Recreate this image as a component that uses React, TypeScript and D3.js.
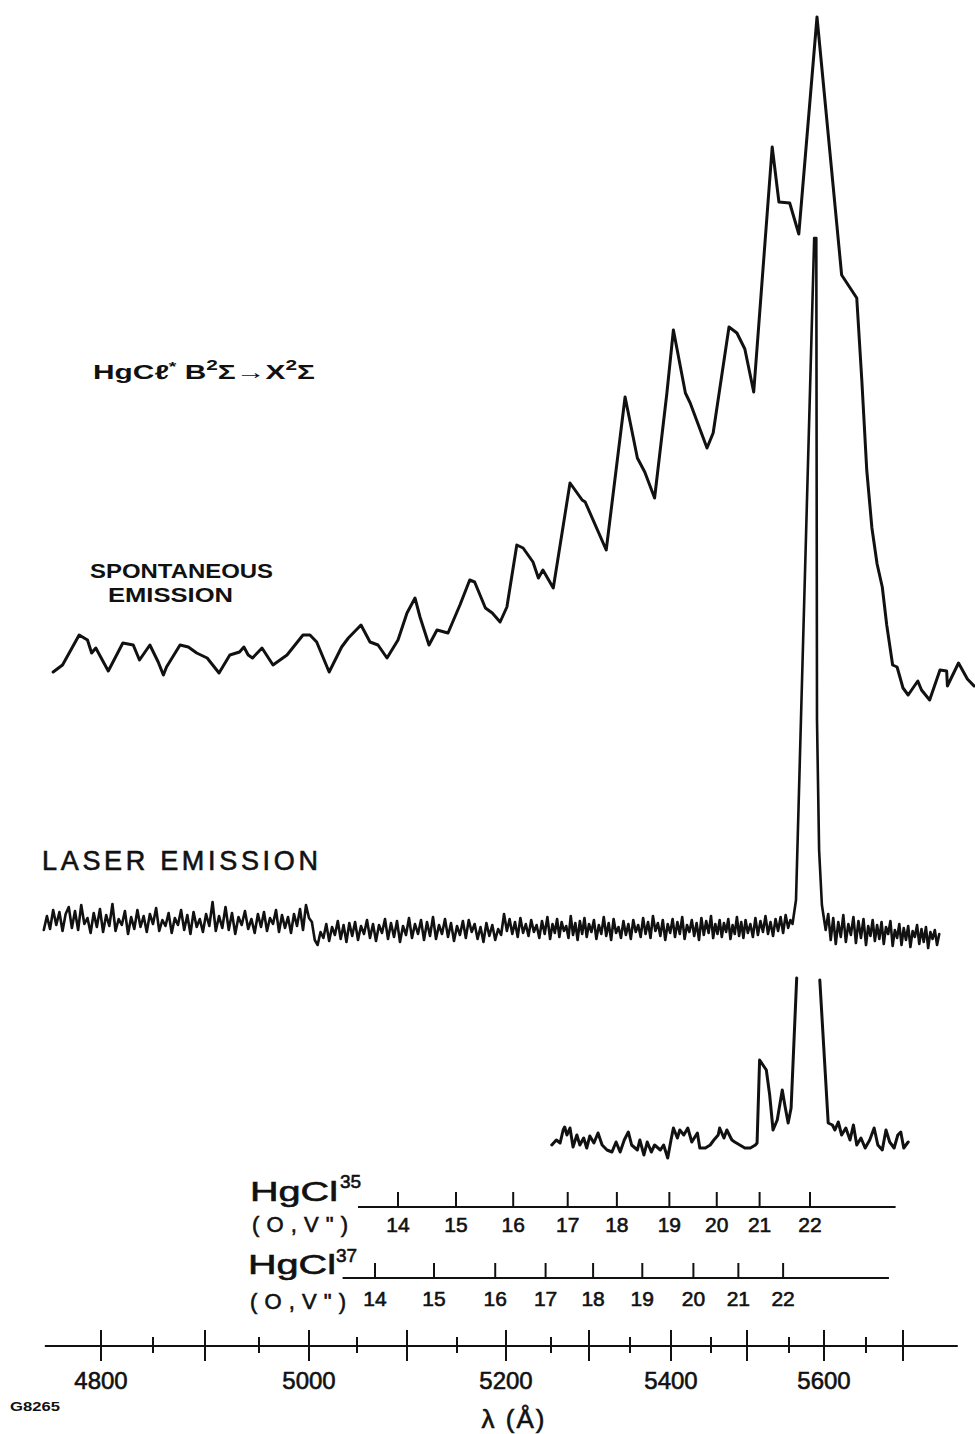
import React from "react";
import * as d3 from "d3";

const W = 975;
const H = 1434;

// wavelength calibration of the lower axis (Å) and the chart position of each mark
const calibLambda = [4800, 4850, 4900, 4950, 5000, 5050, 5100, 5150, 5200, 5250, 5300, 5350, 5400, 5450, 5500, 5550, 5600, 5650, 5700];
const calibPos = [0, 52, 104, 158, 208, 256, 306, 356, 405, 450, 488, 529, 570, 610, 646, 688, 723, 765, 802];
const majorTicks = [4800, 4900, 5000, 5100, 5200, 5300, 5400, 5500, 5600, 5700];
const minorTicks = [4850, 4950, 5050, 5150, 5250, 5350, 5450, 5550, 5650];
const tickLabels = [4800, 5000, 5200, 5400, 5600];
const axisSpan = [4746, 5774];

// (0,v'') band heads
const v35 = [14, 15, 16, 17, 18, 19, 20, 21, 22];
const lambda35 = [5091, 5149, 5208, 5272, 5334, 5398, 5458, 5515, 5580];
const span35 = [5051, 5690];
const v37 = [14, 15, 16, 17, 18, 19, 20, 21, 22];
const lambda37 = [5068, 5127, 5189, 5244, 5305, 5365, 5428, 5488, 5543];
const span37 = [5035, 5681];

// spontaneous emission trace
const spontLambda = [
  4754, 4763, 4779, 4787, 4791, 4795, 4807, 4821, 4831, 4837,
  4847, 4855, 4860, 4863, 4876, 4884, 4892, 4902, 4913, 4923,
  4932, 4936, 4940, 4944, 4953, 4964, 4978, 4994, 5001, 5008,
  5021, 5034, 5041, 5054, 5063, 5071, 5080, 5091, 5100, 5108,
  5113, 5122, 5130, 5141, 5153, 5163, 5168, 5179, 5186, 5194,
  5201, 5212, 5219, 5230, 5236, 5241, 5253, 5275, 5291, 5295,
  5321, 5344, 5359, 5368, 5380, 5395, 5403, 5418, 5424, 5445,
  5453, 5475, 5486, 5497, 5508, 5530, 5538, 5551, 5564, 5590,
  5621, 5639, 5645, 5651, 5658, 5665, 5672, 5678, 5686, 5692,
  5700, 5707, 5720, 5725, 5736, 5750, 5759, 5760, 5775, 5787, 5796,
];
const spontValue = [
  4.8, 5.5, 8.5, 8.0, 6.7, 7.2, 4.9, 7.7, 7.5, 6.0,
  7.5, 5.8, 4.5, 5.3, 7.5, 7.3, 6.7, 6.2, 4.7, 6.5,
  6.8, 7.3, 6.5, 6.2, 7.2, 5.5, 6.5, 8.5, 8.5, 7.8,
  4.8, 7.3, 8.2, 9.5, 7.8, 7.5, 6.2, 8.0, 10.7, 12.2,
  10.3, 7.5, 9.0, 8.7, 11.5, 14.0, 13.8, 11.2, 10.7, 9.8,
  11.3, 17.5, 17.2, 15.8, 14.2, 15.0, 13.2, 23.7, 22.0, 21.8,
  17.0, 32.3, 26.2, 24.8, 22.2, 32.7, 39.0, 32.7, 31.7, 27.2,
  28.7, 39.3, 38.7, 37.1, 32.8, 57.3, 51.8, 51.7, 48.6, 70.3,
  44.5, 42.2, 34.0, 25.0, 19.2, 15.6, 13.3, 9.5, 5.5, 5.3,
  3.2, 2.5, 3.9, 3.0, 2.0, 5.0, 4.9, 3.4, 5.7, 4.1, 3.4,
];

// laser emission trace: noise sampled every 3 Å, then the laser line
const laserStart = 4745;
const laserStep = 3;
const laserLeft = [
  3.0, 4.4, 3.1, 5.0, 3.5, 4.8, 2.9, 4.6, 5.3, 3.2,
  4.9, 3.0, 5.5, 3.6, 4.2, 2.7, 4.7, 3.3, 5.1, 2.8,
  4.5, 3.4, 5.6, 2.9, 4.1, 3.5, 4.9, 2.6, 4.3, 3.1,
  5.0, 3.3, 4.4, 2.8, 4.6, 3.6, 5.2, 2.9, 4.0, 3.4,
  4.7, 2.7, 4.2, 3.5, 5.0, 3.0, 4.5, 2.6, 4.8, 3.3,
  4.1, 2.8, 4.6, 3.4, 5.8, 2.9, 4.4, 3.2, 5.3, 3.0,
  4.7, 2.6, 4.3, 3.5, 4.9, 3.1, 4.1, 2.7, 4.6, 3.3,
  4.8, 2.9, 4.2, 3.6, 5.0, 2.8, 4.5, 3.2, 4.3, 2.7,
  4.6, 3.4, 5.1, 3.0, 5.5, 4.2, 3.8, 2.0, 1.5, 2.8,
  2.2, 3.6, 1.9, 3.3, 2.5, 3.9, 2.1, 3.5, 1.8, 3.7,
  2.4, 3.8, 2.0, 3.4, 2.6, 4.0, 2.2, 3.6, 1.9, 3.5,
  2.7, 4.1, 2.1, 3.7, 2.3, 3.9, 1.8, 3.4, 2.5, 4.2,
  2.2, 3.6, 2.6, 4.0, 2.0, 3.8, 2.4, 4.3, 2.1, 3.5,
  2.6, 4.1, 2.3, 3.7, 1.9, 3.4, 2.5, 3.9, 2.2, 4.0,
  2.8, 3.6, 2.1, 3.3, 1.8, 3.7, 2.4, 3.5, 2.0, 3.1,
  2.5, 4.6, 2.9, 4.1, 2.6, 3.8, 2.3, 4.2, 2.7, 3.6,
  2.4, 4.0, 2.8, 3.5, 2.2, 3.9, 2.6, 4.3, 2.1, 3.6,
  2.7, 4.1, 2.3, 3.8, 2.9, 3.4, 2.2, 4.4, 2.5, 3.7,
  2.0, 3.9, 2.6, 4.2, 2.3, 3.6, 2.8, 4.0, 2.1, 3.5,
  2.6, 4.3, 2.4, 3.7, 2.0, 4.1, 2.7, 3.3, 2.2, 3.9,
  2.5, 3.6, 2.1, 4.0, 2.8, 3.5, 2.3, 4.2, 2.6, 3.8,
  2.2, 4.4, 2.9, 3.7, 2.4, 4.0, 2.0, 3.6, 2.7, 4.1,
  2.3, 3.8, 2.6, 4.3, 2.1, 3.5, 2.8, 4.0, 2.4, 3.7,
  2.0, 4.2, 2.5, 3.9, 2.7, 4.4, 2.2, 3.6, 2.6, 4.0,
  2.3, 3.7, 2.8, 4.1, 2.1, 3.5, 2.6, 4.3, 2.4, 3.8,
  2.2, 4.0, 2.7, 3.6, 2.3, 4.2, 2.5, 3.9, 2.8, 4.4,
  2.6, 3.8, 2.4, 4.1, 2.9, 4.3, 2.7, 4.5, 3.2, 4.0,
  3.6,
];
const laserPeakLambda = [5560, 5586, 5589, 5590, 5593, 5597, 5602];
const laserPeakValue = [6.0, 72.2, 72.2, 24.0, 11.0, 5.5, 3.0];
const laserRightStart = 5605;
const laserRight = [
  4.6, 2.0, 4.2, 1.6, 3.8, 2.3, 4.5, 1.8, 3.6, 2.5,
  4.3, 1.7, 3.9, 2.2, 4.1, 1.5, 3.4, 2.4, 4.0, 1.9,
  3.5, 2.1, 3.8, 1.6, 3.3, 2.6, 3.9, 1.4, 3.0, 2.2,
  3.6, 1.5, 3.2, 2.0, 3.4, 1.3, 2.9, 2.3, 3.5, 1.6,
  3.1, 1.8, 3.3, 1.2, 2.8, 2.1, 3.0, 1.5, 2.6,
];

// expanded laser spectrum (peak runs off scale)
const insetLeftLambda = [
  5251, 5257, 5262, 5266, 5268, 5271, 5275, 5279, 5284, 5288,
  5293, 5297, 5301, 5306, 5311, 5316, 5322, 5328, 5333, 5338,
  5343, 5348, 5352, 5359, 5362, 5367, 5371, 5376, 5380, 5387,
  5391, 5396, 5400, 5403, 5408, 5411, 5416, 5421, 5426, 5433,
  5436, 5443, 5449, 5454, 5460, 5462, 5468, 5472, 5479, 5483,
  5490, 5497, 5504, 5510, 5512, 5515, 5519, 5523, 5527, 5531,
  5536, 5542, 5545, 5549, 5553, 5561,
];
const insetLeftValue = [
  1.5, 2.0, 1.7, 3.0, 3.3, 2.5, 3.2, 1.3, 2.5, 1.5,
  2.2, 1.2, 2.4, 1.7, 2.7, 1.5, 1.0, 0.8, 1.8, 0.8,
  2.0, 2.8, 1.5, 1.0, 2.0, 0.5, 1.8, 0.8, 1.5, 1.0,
  1.5, 0.2, 2.0, 3.2, 2.2, 3.0, 2.5, 3.2, 1.8, 2.7,
  1.2, 1.2, 1.5, 2.0, 2.5, 3.2, 2.2, 3.0, 2.0, 1.8,
  1.5, 1.2, 1.2, 1.5, 1.7, 10.0, 9.5, 9.0, 6.5, 3.0,
  4.0, 7.0, 5.5, 3.7, 5.2, 18.2,
];
const insetRightLambda = [
  5594, 5605, 5610, 5613, 5617, 5621, 5626, 5631, 5635, 5639,
  5644, 5649, 5655, 5661, 5666, 5672, 5677, 5682, 5688, 5693,
  5697, 5701, 5707,
];
const insetRightValue = [
  18.0, 3.7, 3.5, 3.0, 3.8, 2.5, 3.2, 2.0, 3.5, 1.5,
  2.2, 1.2, 2.0, 3.2, 1.5, 1.0, 3.0, 1.8, 1.2, 2.5,
  2.8, 1.2, 1.8,
];

const FONT = "'Liberation Sans', Arial, sans-serif";
const INK = "#111";

const App = () => {
  const x = d3
    .scaleLinear()
    .domain(calibLambda)
    .range(calibPos.map(p => 101 + p));

  const ySpont = d3.scaleLinear().domain([0, 70]).range([720, 20]);
  const yLaser = d3.scaleLinear().domain([0, 70]).range([960, 260]);
  const yInset = d3.scaleLinear().domain([0, 18]).range([1160, 980]);

  const lineOf = (yScale: d3.ScaleLinear<number, number>) =>
    d3
      .line<[number, number]>()
      .x(d => x(d[0]))
      .y(d => yScale(d[1]));

  const spont: [number, number][] = spontLambda.map((l, i) => [l, spontValue[i]]);

  const laser: [number, number][] = [
    ...laserLeft.map((v, i) => [laserStart + i * laserStep, v] as [number, number]),
    ...laserPeakLambda.map((l, i) => [l, laserPeakValue[i]] as [number, number]),
    ...laserRight.map((v, i) => [laserRightStart + i * laserStep, v] as [number, number]),
  ];

  const insetL: [number, number][] = insetLeftLambda.map((l, i) => [l, insetLeftValue[i]]);
  const insetR: [number, number][] = insetRightLambda.map((l, i) => [l, insetRightValue[i]]);

  const traceStyle = {
    fill: "none",
    stroke: INK,
    strokeWidth: 3,
    strokeLinejoin: "round" as const,
    strokeLinecap: "round" as const,
  };

  // regular lettering drawn slightly heavier, like the stencil lettering
  const ink = { fill: INK, stroke: INK, strokeWidth: 0.6, fontFamily: FONT };

  const axisY = 1346;

  const bandRow = (lams: number[], vs: number[], span: number[], lineY: number, labelY: number) => (
    <g>
      <line x1={x(span[0])} x2={x(span[1])} y1={lineY} y2={lineY} stroke={INK} strokeWidth={2} />
      {lams.map((l, i) => (
        <g key={i}>
          <line x1={x(l)} x2={x(l)} y1={lineY - 15} y2={lineY} stroke={INK} strokeWidth={2} />
          <text x={x(l)} y={labelY} textAnchor="middle" fontSize={21} {...ink}>
            {vs[i]}
          </text>
        </g>
      ))}
    </g>
  );

  return (
    <svg
      width={W}
      height={H}
      style={{ position: "absolute", left: 0, top: 0, background: "#fff", display: "block" }}
    >
      <rect width={W} height={H} fill="#fff" />

      {/* traces */}
      <path d={lineOf(ySpont)(spont) || ""} {...traceStyle} />
      <path d={lineOf(yLaser)(laser) || ""} {...traceStyle} strokeWidth={2.6} />
      <path d={lineOf(yInset)(insetL) || ""} {...traceStyle} />
      <path d={lineOf(yInset)(insetR) || ""} {...traceStyle} />

      {/* labels */}
      <text x={93} y={379} fontSize={20} fontWeight="bold" fontFamily={FONT} fill={INK} textLength={222} lengthAdjust="spacingAndGlyphs">
        HgCℓ<tspan dy={-8} fontSize={13}>*</tspan>
        <tspan dy={8}> B</tspan>
        <tspan dy={-9} fontSize={14}>2</tspan>
        <tspan dy={9}>Σ→X</tspan>
        <tspan dy={-9} fontSize={14}>2</tspan>
        <tspan dy={9}>Σ</tspan>
      </text>
      <text x={90} y={578} fontSize={21} fontWeight="bold" fontFamily={FONT} fill={INK} textLength={183} lengthAdjust="spacingAndGlyphs">
        SPONTANEOUS
      </text>
      <text x={108} y={602} fontSize={21} fontWeight="bold" fontFamily={FONT} fill={INK} textLength={125} lengthAdjust="spacingAndGlyphs">
        EMISSION
      </text>
      <text x={42} y={870} fontSize={27} {...ink} textLength={276} lengthAdjust="spacing">
        LASER EMISSION
      </text>

      {/* band-head scales */}
      <text x={250} y={1201} fontSize={27} {...ink} textLength={88} lengthAdjust="spacingAndGlyphs">
        HgCl
      </text>
      <text x={340} y={1188} fontSize={19} {...ink}>
        35
      </text>
      <text x={252} y={1232} fontSize={22} {...ink} textLength={96} lengthAdjust="spacing">
        (O,V")
      </text>
      {bandRow(lambda35, v35, span35, 1207, 1232)}

      <text x={248} y={1274} fontSize={27} {...ink} textLength={88} lengthAdjust="spacingAndGlyphs">
        HgCl
      </text>
      <text x={336} y={1262} fontSize={19} {...ink}>
        37
      </text>
      <text x={250} y={1309} fontSize={22} {...ink} textLength={96} lengthAdjust="spacing">
        (O,V")
      </text>
      {bandRow(lambda37, v37, span37, 1278, 1306)}

      {/* wavelength axis */}
      <line x1={x(axisSpan[0])} x2={x(axisSpan[1])} y1={axisY} y2={axisY} stroke={INK} strokeWidth={2.2} />
      {majorTicks.map(t => (
        <line key={t} x1={x(t)} x2={x(t)} y1={axisY - 16} y2={axisY + 15} stroke={INK} strokeWidth={2} />
      ))}
      {minorTicks.map(t => (
        <line key={t} x1={x(t)} x2={x(t)} y1={axisY - 9} y2={axisY + 7} stroke={INK} strokeWidth={2} />
      ))}
      {tickLabels.map(t => (
        <text key={t} x={x(t)} y={1389} textAnchor="middle" fontSize={24} {...ink}>
          {t}
        </text>
      ))}
      <text x={514} y={1428} textAnchor="middle" fontSize={26} {...ink} letterSpacing={2}>
        λ (Å)
      </text>
      <text x={10} y={1411} fontSize={13} fontWeight="bold" fontFamily={FONT} fill={INK} textLength={50} lengthAdjust="spacingAndGlyphs">
        G8265
      </text>
    </svg>
  );
};

export default App;
